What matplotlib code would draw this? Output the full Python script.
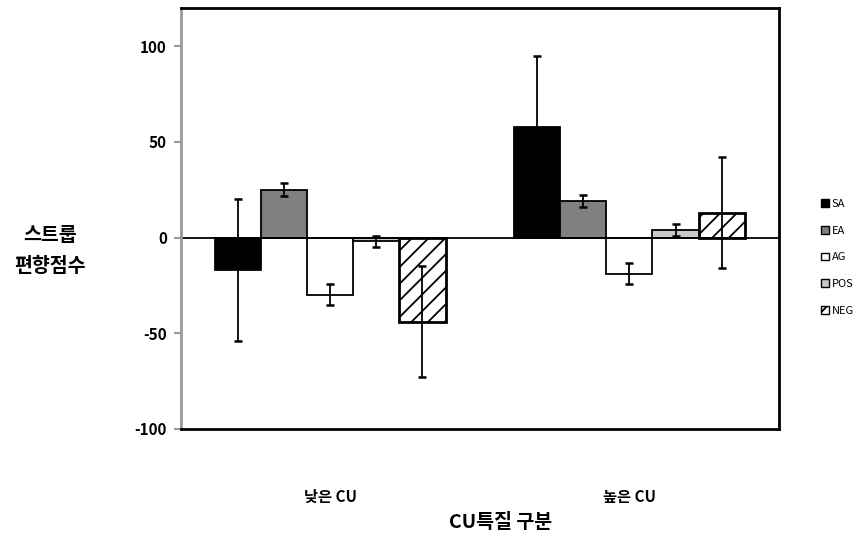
import numpy as np
import matplotlib.pyplot as plt
from matplotlib.patches import Patch

plt.rcParams['font.family'] = ['Noto Sans CJK KR', 'DejaVu Sans']
plt.rcParams['hatch.linewidth'] = 1.3

groups = ['낮은 CU', '높은 CU']
series = ['SA', 'EA', 'AG', 'POS', 'NEG']
means = {
    'SA': [-17, 58],
    'EA': [25, 19],
    'AG': [-30, -19],
    'POS': [-2, 4],
    'NEG': [-44, 13],
}
errors = {
    'SA': [37, 37],
    'EA': [3.5, 3],
    'AG': [5.5, 5.5],
    'POS': [3, 3],
    'NEG': [29, 29],
}
fills = {'SA': 'black', 'EA': '#808080', 'AG': 'white', 'POS': '#c8c8c8', 'NEG': 'white'}
hatches = {'SA': None, 'EA': None, 'AG': None, 'POS': None, 'NEG': '//'}

fig = plt.figure(figsize=(8.57, 5.36), dpi=100)
ax = fig.add_axes([0.211, 0.2, 0.698, 0.785])

x = np.arange(len(groups))
width = 0.154
for i, s in enumerate(series):
    pos = x + (i - 2) * width
    lw = 2.0 if s == 'NEG' else 1.3
    ax.bar(pos, means[s], width, color=fills[s], edgecolor='black',
           linewidth=lw, hatch=hatches[s], zorder=2)
    ax.errorbar(pos, means[s], yerr=errors[s], fmt='none', ecolor='black',
                elinewidth=1.3, capsize=3, capthick=1.8, zorder=3)

ax.axhline(0, color='black', linewidth=1.3, zorder=2.5)

ax.set_xlim(-0.5, 1.5)
ax.set_ylim(-100, 120)
ax.set_yticks([-100, -50, 0, 50, 100])
ax.set_yticklabels(['-100', '-50', '0', '50', '100'], fontweight='bold', fontsize=11)
ax.tick_params(axis='y', direction='out', length=5, color='#999999', width=1.5, pad=5)
ax.set_xticks(x)
ax.set_xticklabels(groups, fontweight='bold', fontsize=11)
ax.tick_params(axis='x', length=0, pad=43)

ax.spines['left'].set_color('#999999')
ax.spines['left'].set_linewidth(2)
for side in ['top', 'right', 'bottom']:
    ax.spines[side].set_color('black')
    ax.spines[side].set_linewidth(2)

fig.text(0.584, 0.026, 'CU특질 구분', fontweight='bold', fontsize=14,
         ha='center', va='center')
fig.text(0.058, 0.532, '스트룹\n편향점수', fontweight='bold', fontsize=14,
         ha='center', va='center', linespacing=1.75)

handles = [Patch(facecolor=fills[s], edgecolor='black', hatch=hatches[s], label=s)
           for s in series]
fig.legend(handles=handles, loc='center left', bbox_to_anchor=(0.952, 0.52),
           frameon=False, fontsize=8, handlelength=0.7, handleheight=0.7,
           handletextpad=0.25, labelspacing=1.5, borderpad=0)

fig.savefig('out.png', dpi=100)
